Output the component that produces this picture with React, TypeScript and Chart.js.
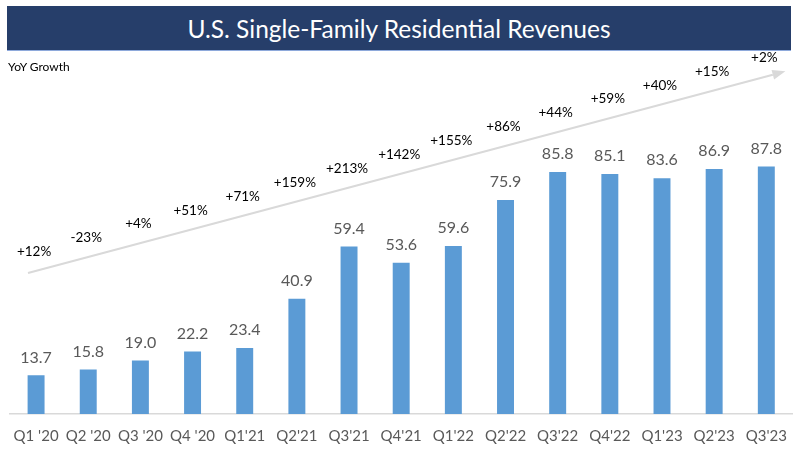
import React, { useEffect, useRef } from 'react';
import { Chart, registerables } from 'chart.js';

Chart.register(...registerables);

const TITLE = 'U.S. Single-Family Residential Revenues';
const GROWTH_HEADER = 'YoY Growth';

const categories = ["Q1 '20", "Q2 '20", "Q3 '20", "Q4 '20", "Q1'21", "Q2'21", "Q3'21", "Q4'21", "Q1'22", "Q2'22", "Q3'22", "Q4'22", "Q1'23", "Q2'23", "Q3'23"];
const revenues = [13.7, 15.8, 19.0, 22.2, 23.4, 40.9, 59.4, 53.6, 59.6, 75.9, 85.8, 85.1, 83.6, 86.9, 87.8];
const yoyGrowth = ['+12%', '-23%', '+4%', '+51%', '+71%', '+159%', '+213%', '+142%', '+155%', '+86%', '+44%', '+59%', '+40%', '+15%', '+2%'];

const FONT = 'Lato, "Open Sans", sans-serif';

const overlayPlugin = {
  id: 'overlay',
  afterDatasetsDraw(chart: any) {
    const { ctx, chartArea, scales } = chart;
    const meta = chart.getDatasetMeta(0);
    ctx.save();
    // value labels
    ctx.font = `16px ${FONT}`;
    ctx.fillStyle = '#595959';
    ctx.textAlign = 'center';
    ctx.textBaseline = 'middle';
    meta.data.forEach((bar: any, i: number) => {
      ctx.fillText(revenues[i].toFixed(1), bar.x, bar.y - 18);
    });
    // arrow
    const y = scales.y;
    const x0 = chartArea.left + 18;
    const y0 = y.getPixelForValue(50);
    const x1 = chartArea.right - 7;
    const y1 = y.getPixelForValue(121.5);
    const ang = Math.atan2(y1 - y0, x1 - x0);
    const headLen = 13;
    const headW = 5;
    const bx = x1 - headLen * Math.cos(ang);
    const by = y1 - headLen * Math.sin(ang);
    ctx.strokeStyle = '#D9D9D9';
    ctx.fillStyle = '#D9D9D9';
    ctx.lineWidth = 2;
    ctx.beginPath();
    ctx.moveTo(x0, y0);
    ctx.lineTo(bx, by);
    ctx.stroke();
    ctx.beginPath();
    ctx.moveTo(x1, y1);
    ctx.lineTo(bx + headW * Math.sin(ang), by - headW * Math.cos(ang));
    ctx.lineTo(bx - headW * Math.sin(ang), by + headW * Math.cos(ang));
    ctx.closePath();
    ctx.fill();
    // growth labels
    ctx.font = `13.5px ${FONT}`;
    ctx.fillStyle = '#000000';
    const slope = (y1 - y0) / (x1 - x0);
    meta.data.forEach((bar: any, i: number) => {
      const ly = y0 + slope * (bar.x - x0) - 19;
      ctx.fillText(yoyGrowth[i], bar.x - 2, ly);
    });
    ctx.restore();
  },
};

export default function App() {
  const ref = useRef<HTMLCanvasElement>(null);
  useEffect(() => {
    document.body.style.margin = '0';
    const chart = new Chart(ref.current as HTMLCanvasElement, {
      type: 'bar',
      data: {
        labels: categories,
        datasets: [
          {
            data: revenues,
            backgroundColor: '#5B9BD5',
            barPercentage: 0.325,
            categoryPercentage: 1,
          },
        ],
      },
      options: {
        responsive: false,
        animation: false,
        layout: { padding: { top: 132, left: 10, right: 3, bottom: 4 } },
        plugins: { legend: { display: false }, tooltip: { enabled: false }, title: { display: false } },
        scales: {
          x: {
            grid: { display: false, drawTicks: false },
            border: { display: true, color: '#D9D9D9', width: 1.5 },
            ticks: { font: { family: FONT, size: 15 }, color: '#595959', padding: 13, maxRotation: 0, autoSkip: false },
          },
          y: { display: false, min: 0, max: 100 },
        },
      },
      plugins: [overlayPlugin],
    });
    return () => chart.destroy();
  }, []);
  return (
    <div style={{ position: 'relative', width: 800, height: 462, background: '#fff', fontFamily: FONT }}>
      <canvas ref={ref} width={800} height={462} style={{ position: 'absolute', left: 0, top: 0 }} />
      <div
        style={{
          position: 'absolute', left: 7, top: 6, width: 784, height: 45, background: '#263E6A',
          color: '#fff', fontSize: 24.5, display: 'flex', alignItems: 'center', justifyContent: 'center',
          boxSizing: 'border-box', borderBottom: '1px solid #8EA9DB',
        }}
      >
        {TITLE}
      </div>
      <div style={{ position: 'absolute', left: 8, top: 59, fontSize: 12, color: '#000', lineHeight: '16px' }}>
        {GROWTH_HEADER}
      </div>
    </div>
  );
}
